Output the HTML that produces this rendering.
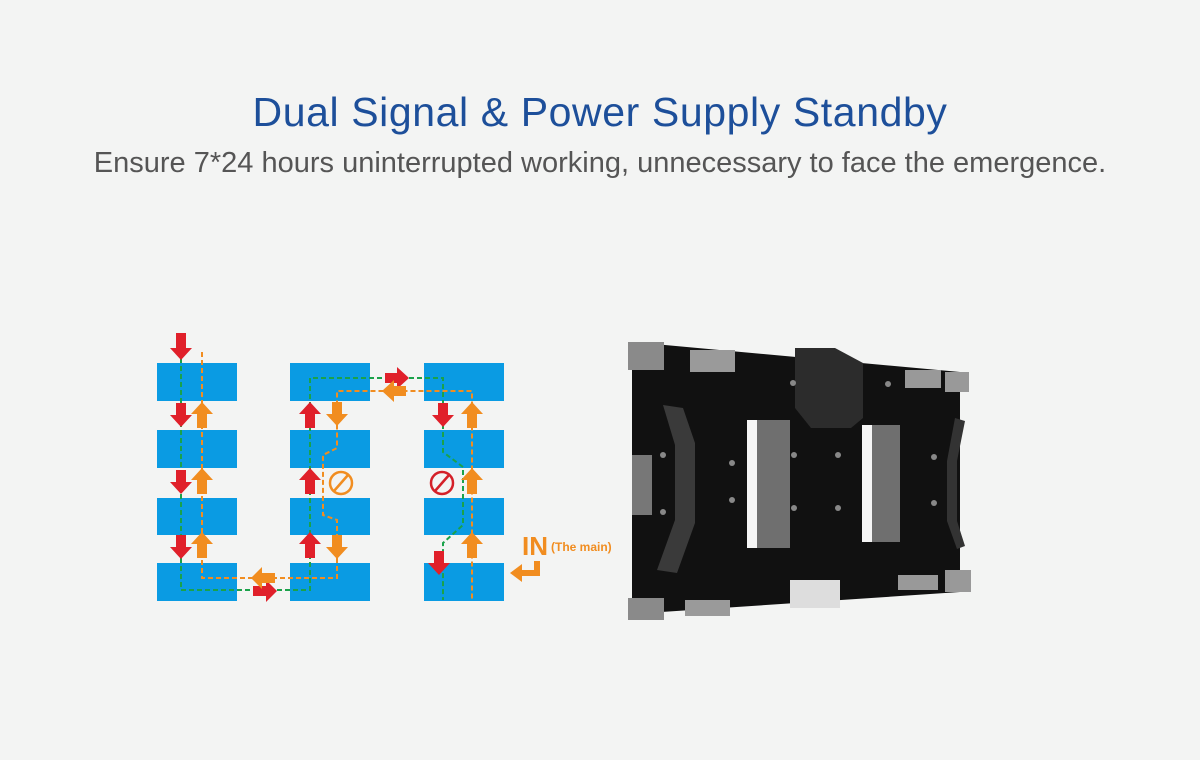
<!DOCTYPE html>
<html><head><style>
body{margin:0;width:1200px;height:760px;background:#f3f4f3;font-family:"Liberation Sans",sans-serif;position:relative;overflow:hidden}
h1{position:absolute;top:88px;left:0;width:1200px;text-align:center;margin:0;font-weight:normal;font-size:41px;color:#1d4f9a;letter-spacing:0.6px;line-height:48px}
p{position:absolute;top:146px;left:0;width:1200px;text-align:center;margin:0;font-size:29px;color:#555;line-height:34px}
svg{position:absolute;left:0;top:0}
</style></head><body>
<h1>Dual Signal &amp; Power Supply Standby</h1>
<p>Ensure 7*24 hours uninterrupted working, unnecessary to face the emergence.</p>
<svg width="1200" height="760">
<g fill="#0a9be3">
<rect x="157" y="363" width="80" height="38"/><rect x="157" y="430" width="80" height="38"/><rect x="157" y="498" width="80" height="37"/><rect x="157" y="563" width="80" height="38"/>
<rect x="290" y="363" width="80" height="38"/><rect x="290" y="430" width="80" height="38"/><rect x="290" y="498" width="80" height="37"/><rect x="290" y="563" width="80" height="38"/>
<rect x="424" y="363" width="80" height="38"/><rect x="424" y="430" width="80" height="38"/><rect x="424" y="498" width="80" height="37"/><rect x="424" y="563" width="80" height="38"/>
</g>
<g fill="none" stroke-width="2" stroke-dasharray="5,3">
<path stroke="#1aa24a" d="M181,358V590H310V378H443V452L463,467V525L443,543V600"/>
<path stroke="#f18d20" d="M202,352V578H337V520L323,515V455L337,448V391H472V600"/>
</g>
<g>
<g fill="#e0202a">
<path d="M176,333h10v15h6l-11,12l-11,-12h6z"/>
<path d="M176,403h10v12h6l-11,12l-11,-12h6z"/>
<path d="M176,470h10v12h6l-11,12l-11,-12h6z"/>
<path d="M176,535h10v12h6l-11,12l-11,-12h6z"/>
<path d="M438,403h10v12h6l-11,12l-11,-12h6z"/>
<path d="M434,551h10v12h6l-11,12l-11,-12h6z"/>
<path d="M305,428h10v-14h6l-11,-12l-11,12h6z"/>
<path d="M305,494h10v-14h6l-11,-12l-11,12h6z"/>
<path d="M305,558h10v-14h6l-11,-12l-11,12h6z"/>
<path d="M385,373v10h12v6l12,-11l-12,-11v6z"/>
<path d="M253,586v10h13v6l11,-11l-11,-11v6z"/>
</g>
<g fill="#f18d20">
<path d="M197,428h10v-14h6l-11,-12l-11,12h6z"/>
<path d="M197,494h10v-14h6l-11,-12l-11,12h6z"/>
<path d="M197,558h10v-14h6l-11,-12l-11,12h6z"/>
<path d="M467,428h10v-14h6l-11,-12l-11,12h6z"/>
<path d="M467,494h10v-14h6l-11,-12l-11,12h6z"/>
<path d="M467,558h10v-14h6l-11,-12l-11,12h6z"/>
<path d="M332,402h10v12h6l-11,12l-11,-12h6z"/>
<path d="M332,535h10v12h6l-11,12l-11,-12h6z"/>
<path d="M406,386v10h-12v6l-12,-11l12,-11v6z"/>
<path d="M275,573v10h-13v6l-11,-11l11,-11v6z"/>
</g>
<circle cx="341" cy="483" r="11" fill="none" stroke="#f18d20" stroke-width="2.5"/>
<line x1="334" y1="491" x2="348" y2="475" stroke="#f18d20" stroke-width="2.5"/>
<circle cx="442" cy="483" r="11" fill="none" stroke="#d42028" stroke-width="2.5"/>
<line x1="435" y1="491" x2="449" y2="475" stroke="#d42028" stroke-width="2.5"/>
<text x="522" y="555" font-family="Liberation Sans" font-size="26" font-weight="bold" fill="#f18d20">IN</text>
<text x="551" y="551" font-family="Liberation Sans" font-size="12" font-weight="bold" fill="#f18d20">(The main)</text>
<path d="M537,561v12h-16" fill="none" stroke="#f18d20" stroke-width="6"/>
<path d="M510,573l12,-9v18z" fill="#f18d20"/>
</g>
<polygon points="632,342 960,372 960,592 632,614" fill="#111"/>
<rect x="628" y="342" width="36" height="28" fill="#8a8a8a"/>
<rect x="628" y="598" width="36" height="22" fill="#8a8a8a"/>
<rect x="690" y="350" width="45" height="22" fill="#9a9a9a"/>
<rect x="685" y="600" width="45" height="16" fill="#9a9a9a"/>
<rect x="905" y="370" width="36" height="18" fill="#999"/>
<rect x="945" y="372" width="24" height="20" fill="#999"/>
<rect x="898" y="575" width="40" height="15" fill="#999"/>
<rect x="945" y="570" width="26" height="22" fill="#999"/>
<path d="M795,348h40l28,15v55l-12,10h-40l-16,-20z" fill="#2c2c2c"/>
<path d="M663,405l20,3l12,35v80l-18,50l-20,-3l18,-50v-75z" fill="#3a3a3a"/>
<path d="M955,418l10,3l-8,40v60l8,25l-8,3l-10,-28v-60z" fill="#333"/>
<rect x="747" y="420" width="10" height="128" fill="#f5f5f5"/>
<rect x="757" y="420" width="33" height="128" fill="#6f6f6f"/>
<rect x="862" y="425" width="10" height="117" fill="#f5f5f5"/>
<rect x="872" y="425" width="28" height="117" fill="#6f6f6f"/>
<rect x="632" y="455" width="20" height="60" fill="#777"/>
<rect x="790" y="580" width="50" height="28" fill="#ddd"/>
<g fill="#888">
<circle cx="663" cy="455" r="3"/><circle cx="663" cy="512" r="3"/><circle cx="732" cy="463" r="3"/><circle cx="732" cy="500" r="3"/>
<circle cx="794" cy="455" r="3"/><circle cx="838" cy="455" r="3"/><circle cx="794" cy="508" r="3"/><circle cx="838" cy="508" r="3"/>
<circle cx="934" cy="457" r="3"/><circle cx="934" cy="503" r="3"/><circle cx="793" cy="383" r="3"/><circle cx="888" cy="384" r="3"/>
</g>
</svg>
</body></html>
